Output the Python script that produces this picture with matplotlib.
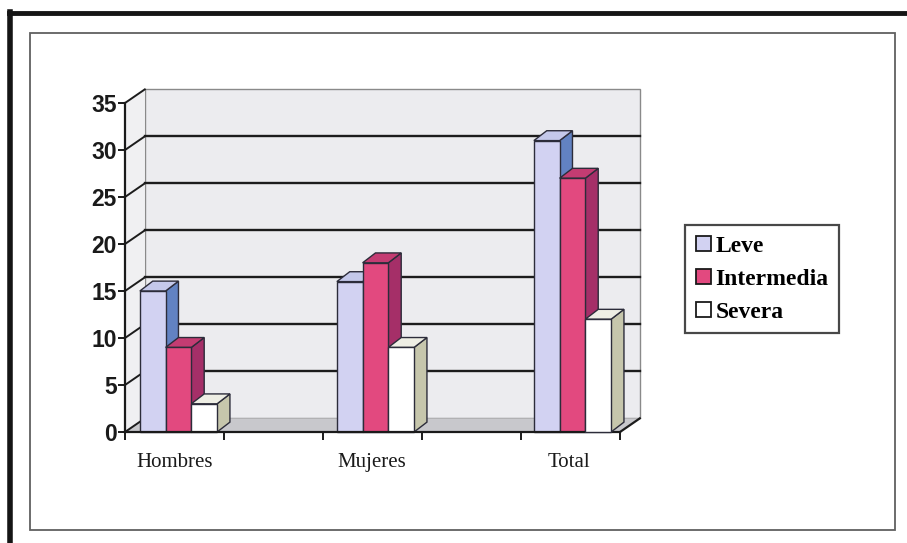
import matplotlib.pyplot as plt
from matplotlib.patches import Polygon, Rectangle, Patch
from matplotlib.lines import Line2D

# Datos
categorias = ['Hombres', 'Mujeres', 'Total']
series = ['Leve', 'Intermedia', 'Severa']
leve = [15, 16, 31]
intermedia = [9, 18, 27]
severa = [3, 9, 12]
y_ticks = [0, 5, 10, 15, 20, 25, 30, 35]

# Colores: cara frontal, lateral, superior
colores = {
    'Leve': ('#d2d2f2', '#6282c2', '#c4c8ea'),
    'Intermedia': ('#e2497f', '#a52f68', '#c43c72'),
    'Severa': ('#ffffff', '#c6c6ac', '#eeeee4'),
}
borde = '#2c2c3a'

# Profundidad del "3D"
wall_dx, wall_dy = 0.2, 1.45
bar_dx, bar_dy = 0.13, 1.05
bar_w = 0.26
group_start = 0.15
group_step = 1.99

fig = plt.figure(figsize=(9.07, 5.43), dpi=100)
ax = fig.add_axes([125 / 907, 111 / 543, 495 / 907, 329 / 543])
ax.set_xlim(0, 5)
ax.set_ylim(0, 35)
for s in ['top', 'right']:
    ax.spines[s].set_visible(False)
for s in ['left', 'bottom']:
    ax.spines[s].set_linewidth(1.6)
    ax.spines[s].set_color('#1a1a1a')
    ax.spines[s].set_zorder(20)
ax.patch.set_visible(False)

# Pared del fondo, pared lateral y piso
ax.add_patch(Polygon([(wall_dx, wall_dy), (5 + wall_dx, wall_dy),
                      (5 + wall_dx, 35 + wall_dy), (wall_dx, 35 + wall_dy)],
                     closed=True, fc='#ececef', ec='#8a8a8a', lw=1.0,
                     clip_on=False, zorder=1))
ax.add_patch(Polygon([(0, 0), (wall_dx, wall_dy), (wall_dx, 35 + wall_dy), (0, 35)],
                     closed=True, fc='#f0f0f2', ec='none', clip_on=False, zorder=1))
ax.add_patch(Polygon([(0, 0), (5, 0), (5 + wall_dx, wall_dy), (wall_dx, wall_dy)],
                     closed=True, fc='#c8c8cc', ec='none', clip_on=False, zorder=2))

# Lineas de division en la pared del fondo
for v in y_ticks[1:-1]:
    ax.plot([wall_dx, 5 + wall_dx], [v + wall_dy, v + wall_dy],
            color='#1c1c1c', lw=1.7, clip_on=False, zorder=3)
for v in y_ticks:
    ax.plot([0, wall_dx], [v, v + wall_dy], color='#1c1c1c', lw=1.4,
            clip_on=False, zorder=3)
ax.plot([5, 5 + wall_dx], [0, wall_dy], color='#1c1c1c', lw=1.6,
        clip_on=False, zorder=20)

# Barras con caras lateral y superior
valores = {'Leve': leve, 'Intermedia': intermedia, 'Severa': severa}
z = 5
for i, cat in enumerate(categorias):
    for j, nombre in enumerate(series):
        v = valores[nombre][i]
        x0 = group_start + i * group_step + j * bar_w
        frente, lado, arriba = colores[nombre]
        ax.add_patch(Polygon([(x0 + bar_w, 0), (x0 + bar_w + bar_dx, bar_dy),
                              (x0 + bar_w + bar_dx, v + bar_dy), (x0 + bar_w, v)],
                             closed=True, fc=lado, ec=borde, lw=1.0,
                             clip_on=False, zorder=z))
        ax.add_patch(Polygon([(x0, v), (x0 + bar_w, v),
                              (x0 + bar_w + bar_dx, v + bar_dy), (x0 + bar_dx, v + bar_dy)],
                             closed=True, fc=arriba, ec=borde, lw=1.0,
                             clip_on=False, zorder=z))
        ax.add_patch(Rectangle((x0, 0), bar_w, v, fc=frente, ec=borde, lw=1.0,
                               clip_on=False, zorder=z + 1))
        z += 2

# Ejes
ax.set_yticks(y_ticks)
ax.set_yticklabels([str(t) for t in y_ticks], fontsize=16.5, fontweight='bold',
                   family='Liberation Sans', color='#1a1a1a')
ax.set_xticks([0, 1, 2, 3, 4, 5])
ax.set_xticklabels([])
ax.tick_params(axis='y', length=5, width=1.4, pad=1, color='#1a1a1a')
ax.tick_params(axis='x', length=6, width=1.4, color='#1a1a1a')

for i, cat in enumerate(categorias):
    xc = group_start + i * group_step + 1.5 * bar_w
    ax.text(xc - 0.04, -3.2, cat, ha='center', va='center', fontsize=15,
            family='Liberation Serif', color='#1a1a1a', clip_on=False)

# Leyenda
handles = [Patch(fc=colores[n][0], ec='#1a1a1a', lw=1.3) for n in series]
leg = fig.legend(handles, series, loc='upper left',
                 bbox_to_anchor=(685 / 907, 1 - 225 / 543),
                 prop={'family': 'Liberation Serif', 'weight': 'bold', 'size': 17},
                 frameon=True, fancybox=False, edgecolor='#1a1a1a',
                 handlelength=0.65, handleheight=0.65, handletextpad=0.2,
                 labelspacing=0.5, borderpad=0.45, borderaxespad=0)
leg.get_frame().set_linewidth(1.6)

# Marcos de la imagen
fig.add_artist(Rectangle((30 / 907, 1 - 530 / 543), 865 / 907, 497 / 543,
                         transform=fig.transFigure, fill=False, ec='#606060', lw=1.3))
fig.add_artist(Line2D([9 / 907, 1], [1 - 13 / 543, 1 - 13 / 543],
                      transform=fig.transFigure, color='#151515', lw=3.5))
fig.add_artist(Line2D([10 / 907, 10 / 907], [1 - 12 / 543, 0],
                      transform=fig.transFigure, color='#151515', lw=4))

fig.savefig('out.png', dpi=100)
